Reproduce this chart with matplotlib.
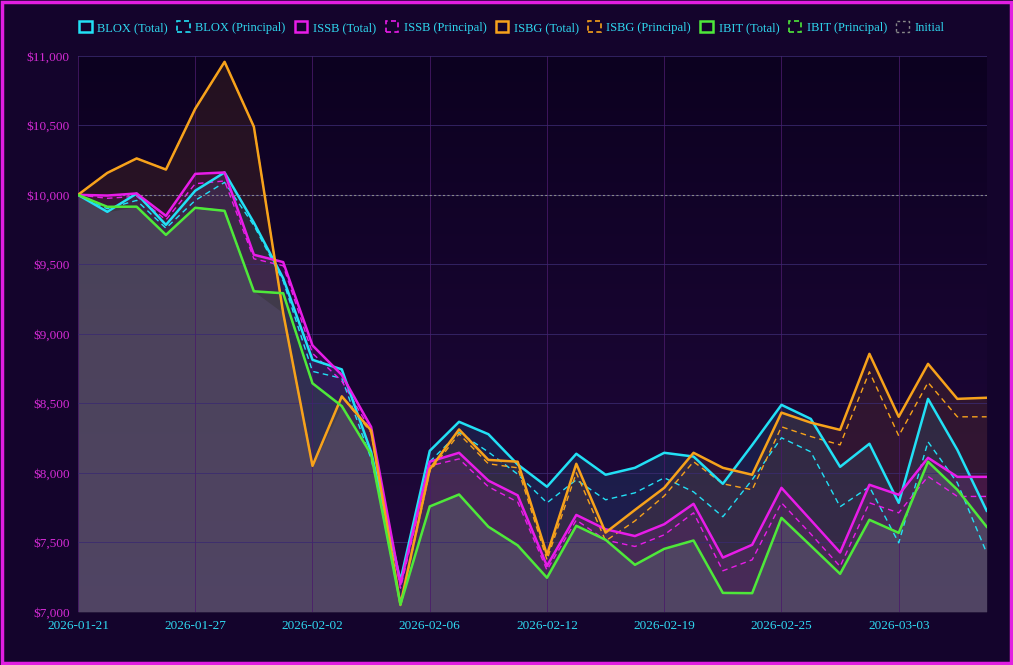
import matplotlib
matplotlib.use("Agg")
import matplotlib.pyplot as plt
import numpy as np
from matplotlib.patches import Rectangle
from matplotlib.colors import LinearSegmentedColormap

dates = ["2026-01-21","2026-01-22","2026-01-23","2026-01-26","2026-01-27","2026-01-28","2026-01-29","2026-01-30",
         "2026-02-02","2026-02-03","2026-02-04","2026-02-05","2026-02-06","2026-02-09","2026-02-10","2026-02-11",
         "2026-02-12","2026-02-13","2026-02-17","2026-02-18","2026-02-19","2026-02-20","2026-02-23","2026-02-24",
         "2026-02-25","2026-02-26","2026-02-27","2026-03-02","2026-03-03","2026-03-04","2026-03-05","2026-03-06"]

blox_total = [10000,9878,10009,9784,10030,10161,9800,9400,8813,8744,8150,7225,8158,8367,8278,8060,
              7900,8137,7986,8036,8144,8117,7921,8200,8489,8388,8043,8209,7784,8532,8165,7727]
blox_princ = [10000,9900,9960,9760,9960,10090,9780,9380,8730,8680,8100,7200,8080,8290,8150,7990,
              7784,7950,7806,7856,7964,7863,7684,7950,8252,8151,7756,7900,7496,8223,7928,7424]
issb_total = [10000,9995,10010,9849,10151,10161,9569,9516,8917,8704,8330,7199,8080,8144,7944,7838,
              7330,7697,7594,7545,7630,7777,7390,7482,7892,7660,7427,7914,7842,8108,7971,7971]
issb_princ = [10000,9975,9990,9820,10080,10100,9540,9490,8860,8660,8300,7170,8050,8100,7900,7790,
              7300,7660,7516,7470,7554,7712,7295,7374,7784,7560,7326,7784,7712,7974,7830,7830]
isbg_total = [10000,10158,10262,10182,10620,10957,10490,9150,8050,8550,8305,7052,8025,8312,8093,8080,
              7410,8065,7570,7733,7892,8144,8036,7986,8433,8361,8309,8856,8403,8784,8532,8540]
isbg_princ = [10000,10158,10262,10182,10620,10957,10490,9150,8050,8550,8290,7045,8010,8280,8065,8036,
              7374,8000,7510,7654,7834,8080,7921,7878,8331,8261,8201,8727,8266,8650,8403,8403]
ibit_total = [10000,9914,9915,9712,9907,9885,9306,9292,8644,8480,8133,7052,7758,7844,7612,7478,
              7245,7619,7518,7338,7453,7513,7136,7134,7676,7475,7273,7662,7568,8080,7878,7612]
ibit_princ = list(ibit_total)
initial = 10000
yticks = [7000,7500,8000,8500,9000,9500,10000,10500,11000]

CYAN, MAG, ORA, GRN = "#22e0f5", "#e81ce8", "#f7a21b", "#4ee83a"

plt.rcParams['font.family'] = ['Liberation Serif', 'DejaVu Serif']
fig = plt.figure(figsize=(10.13, 6.65), dpi=100)
fig.patch.set_facecolor("#14042c")
ax = fig.add_axes([0.077, 0.080, 0.897, 0.836])
ax.set_facecolor("#14042c")
x = np.arange(len(dates))

grad = np.linspace(0, 1, 256).reshape(-1, 1)
cm = LinearSegmentedColormap.from_list("bg", ["#0c0120", "#22093f"])
ax.imshow(grad, aspect='auto', cmap=cm, origin='upper',
          extent=[0, len(x)-1, 7000, 11000], zorder=0)

series = [("BLOX", blox_total, blox_princ, CYAN), ("ISSB", issb_total, issb_princ, MAG),
          ("ISBG", isbg_total, isbg_princ, ORA), ("IBIT", ibit_total, ibit_princ, GRN)]
handles = []
for name, tot, pr, c in series:
    ax.fill_between(x, 7000, tot, color=c, alpha=0.10, lw=0, zorder=1)
ax.fill_between(x, 7000, np.min([t for _, t, _, _ in series], axis=0), color="#6a5a90", alpha=0.25, lw=0, zorder=1)
for name, tot, pr, c in series:
    ax.plot(x, pr, color=c, lw=1.0, ls=(0, (4, 3)), zorder=2)
    ax.plot(x, tot, color=c, lw=1.8, zorder=3)
    handles.append(Rectangle((0, 0), 1, 1, fc="none", ec=c, lw=1.8))
    handles.append(Rectangle((0, 0), 1, 1, fc="none", ec=c, lw=1.2, ls=(0, (3, 2))))
ax.axhline(initial, color="#888888", lw=0.8, ls=(0, (2, 2)), zorder=2)
handles.append(Rectangle((0, 0), 1, 1, fc="none", ec="#888888", lw=1.0, ls=(0, (2, 2))))
labels = []
for name, *_ in series:
    labels += [f"{name} (Total)", f"{name} (Principal)"]
labels.append("Initial")

ax.set_xlim(0, len(x)-1)
ax.set_ylim(7000, 11000)
ax.set_yticks(yticks)
ax.set_yticklabels([f"${v:,}" for v in yticks], color="#d42bd4", fontsize=9.5)
ax.set_xticks(x[::4])
ax.set_xticklabels(dates[::4], color="#2fd8f0", fontsize=9.5)
ax.tick_params(length=0, pad=6)
ax.grid(True, color="#3a2a70", lw=0.7, alpha=0.8)
for gl in ax.get_xgridlines():
    gl.set_color("#4a1a6a")
for s in ax.spines.values():
    s.set_visible(False)

leg = fig.legend(handles, labels, loc="upper left", bbox_to_anchor=(0.078, 0.968), ncol=9,
                 frameon=False, fontsize=9, handlelength=1.0, handleheight=1.0,
                 handletextpad=0.45, columnspacing=0.75, borderaxespad=0, borderpad=0)
for t in leg.get_texts():
    t.set_color("#2fd8f0")

fig.add_artist(Rectangle((0.002, 0.003), 0.996, 0.994, transform=fig.transFigure,
                         fc="none", ec="#e11ee1", lw=2.5))
fig.savefig("out.png", dpi=100, facecolor=fig.get_facecolor())
